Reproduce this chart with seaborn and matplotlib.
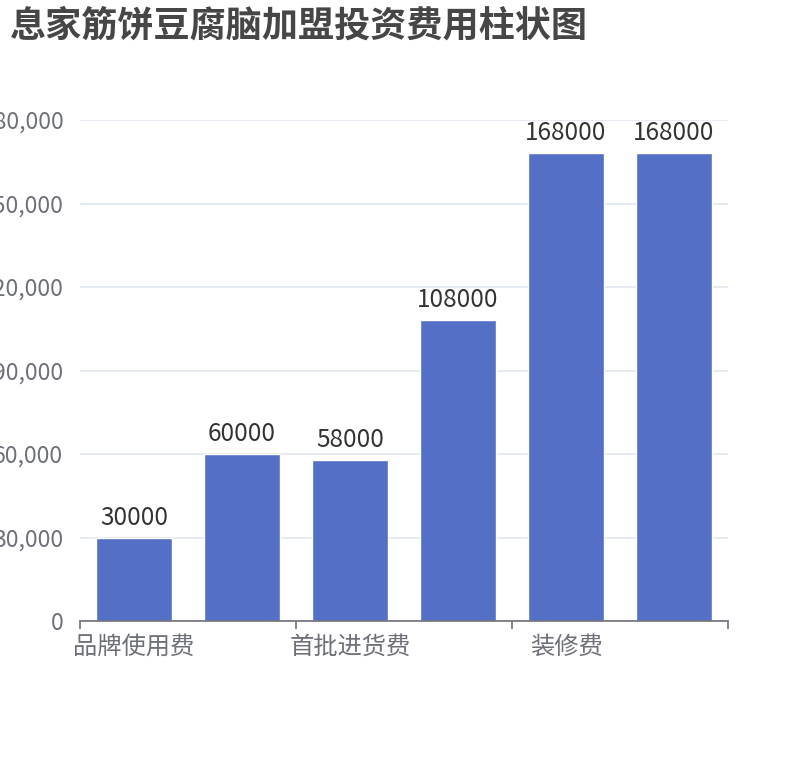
import matplotlib
matplotlib.use('Agg')
import matplotlib.pyplot as plt
import seaborn as sns
import pandas as pd
from matplotlib.ticker import FuncFormatter, FixedLocator

# datos (las categorías ocultas en el eje se dejan con nombre genérico)
categorias = ['品牌使用费', '加盟保证金', '首批进货费', '设备费', '装修费', '其他费用']
valores = [30000, 60000, 58000, 108000, 168000, 168000]
etiquetas_visibles = ['品牌使用费', '首批进货费', '装修费']
titulo = '息家筋饼豆腐脑加盟投资费用柱状图'

sns.set_theme(style='white')
plt.rcParams['font.family'] = ['Noto Sans CJK SC', 'DejaVu Sans']

df = pd.DataFrame({'categoria': categorias, 'valor': valores})

fig = plt.figure(figsize=(8.1, 7.6), dpi=100)
ax = fig.add_axes([80 / 810, 1 - 621 / 760, 648 / 810, 501 / 760])

sns.barplot(data=df, x='categoria', y='valor', order=categorias, color='#5470c6',
            saturation=1, width=0.7, ax=ax, zorder=3)

for i, v in enumerate(valores):
    ax.annotate(str(v), (i, v), xytext=(0, 5), textcoords='offset points',
                ha='center', va='bottom', fontsize=17.5, color='#333333')

ax.set_ylim(0, 180000)
ax.set_xlim(-0.5, len(categorias) - 0.5)
ax.set_yticks(range(0, 180001, 30000))
ax.yaxis.set_major_formatter(FuncFormatter(lambda v, p: f'{int(v):,}'))
ax.grid(axis='y', color='#E0E6F1', linewidth=1.2, zorder=0)
ax.grid(axis='x', visible=False)

# solo se muestra una etiqueta de cada dos, como en el original
pos = [categorias.index(c) for c in etiquetas_visibles]
ax.set_xticks(pos)
ax.set_xticklabels(etiquetas_visibles)
ax.xaxis.set_minor_locator(FixedLocator([-0.5, 1.5, 3.5, 5.5]))
ax.tick_params(axis='x', which='major', length=0, pad=9, labelsize=17.5, labelcolor='#6E7079')
ax.tick_params(axis='x', which='minor', length=6, width=1.2, color='#6E7079', bottom=True)
ax.tick_params(axis='y', length=0, pad=12, labelsize=16.5, labelcolor='#6E7079')

for s in ['left', 'top', 'right']:
    ax.spines[s].set_visible(False)
ax.spines['bottom'].set_color('#6E7079')
ax.spines['bottom'].set_linewidth(1.2)
ax.spines['bottom'].set_zorder(4)
ax.set_xlabel('')
ax.set_ylabel('')

fig.text(10 / 810, 1 - 8 / 760, titulo, ha='left', va='top', fontsize=26,
         fontweight='bold', color='#464646')

fig.savefig('out.png', dpi=100)
